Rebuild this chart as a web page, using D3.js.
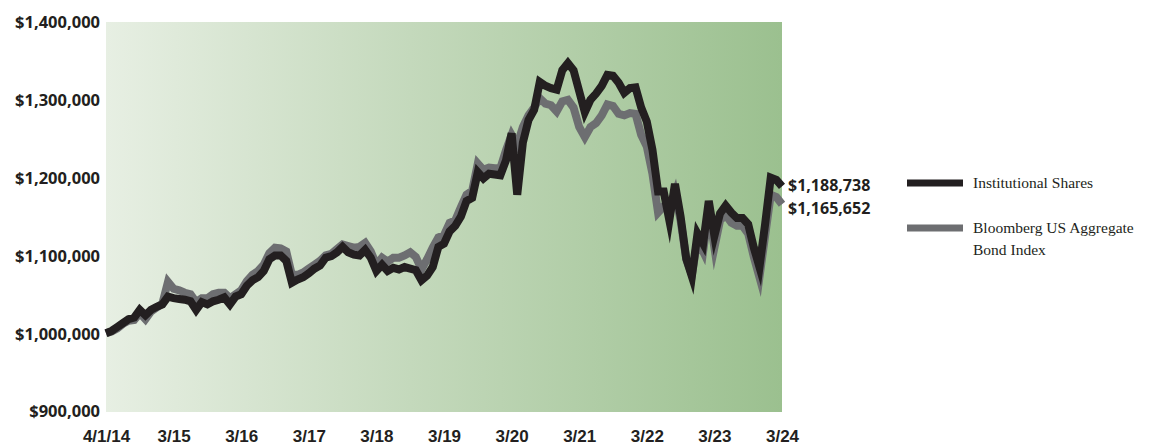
<!DOCTYPE html>
<html>
<head>
<meta charset="utf-8">
<script src="https://cdn.jsdelivr.net/npm/d3@7/dist/d3.min.js"></script>
<style>
  html, body { margin: 0; padding: 0; background: #ffffff; }
  svg { display: block; }
  .ylab text { font-family: "Open Sans", sans-serif; font-weight: 700; font-size: 16.5px; fill: #231f20; }
  .endlab { font-family: "Open Sans", sans-serif; font-weight: 700; font-size: 16px; fill: #231f20; }
  .xlab text { font-family: "Liberation Sans Narrow", "Liberation Sans", sans-serif; font-weight: 700; font-size: 17px; fill: #231f20; }
  .legend text { font-family: "Liberation Serif", "DejaVu Serif", serif; font-size: 15.5px; fill: #231f20; }
</style>
</head>
<body>
<svg id="chart" width="1168" height="445"></svg>
<script>
// Growth of $1,000,000, month-end values from 4/1/14 through 3/31/24 (121 points)
const months = d3.range(0, 121);

const institutionalShares = [
  1000000, 1003000, 1008000, 1013000, 1018000, 1020000, 1030000, 1023000, 1030000, 1034000,
  1037000, 1047000, 1045000, 1044000, 1043000, 1041000, 1030000, 1040000, 1037000, 1041000,
  1043000, 1046000, 1037000, 1047000, 1050000, 1061000, 1068000, 1072000, 1080000, 1095000,
  1100000, 1100000, 1093000, 1065000, 1069000, 1072000, 1077000, 1083000, 1087000, 1097000,
  1099000, 1104000, 1111000, 1104000, 1101000, 1100000, 1107000, 1097000, 1080000, 1088000,
  1080000, 1084000, 1082000, 1085000, 1083000, 1081000, 1068000, 1074000, 1085000, 1111000,
  1115000, 1131000, 1138000, 1150000, 1170000, 1174000, 1207000, 1199000, 1205000, 1204000,
  1203000, 1222000, 1257000, 1178000, 1245000, 1274000, 1287000, 1323000, 1318000, 1315000,
  1313000, 1338000, 1347000, 1338000, 1311000, 1284000, 1300000, 1308000, 1318000, 1332000,
  1331000, 1322000, 1309000, 1315000, 1316000, 1290000, 1272000, 1236000, 1182000, 1182000,
  1145000, 1192000, 1150000, 1096000, 1073000, 1128000, 1115000, 1170000, 1125000, 1154000,
  1164000, 1155000, 1148000, 1148000, 1140000, 1110000, 1085000, 1140000, 1200000, 1197000,
  1188738
];

const bloombergAgg = [
  1000000, 1002000, 1006000, 1012000, 1016000, 1017000, 1026000, 1018000, 1028000, 1033000,
  1038000, 1066000, 1057000, 1055000, 1052000, 1050000, 1040000, 1045000, 1045000, 1050000,
  1052000, 1052000, 1045000, 1050000, 1055000, 1067000, 1075000, 1080000, 1088000, 1103000,
  1110000, 1109000, 1105000, 1075000, 1075000, 1078000, 1083000, 1088000, 1093000, 1100000,
  1102000, 1108000, 1114000, 1112000, 1110000, 1111000, 1116000, 1105000, 1088000, 1097000,
  1092000, 1097000, 1097000, 1100000, 1104000, 1098000, 1082000, 1095000, 1110000, 1123000,
  1126000, 1142000, 1145000, 1162000, 1178000, 1183000, 1218000, 1210000, 1213000, 1212000,
  1212000, 1235000, 1255000, 1242000, 1265000, 1280000, 1290000, 1302000, 1295000, 1293000,
  1285000, 1298000, 1300000, 1290000, 1265000, 1252000, 1265000, 1270000, 1280000, 1294000,
  1292000, 1282000, 1280000, 1283000, 1282000, 1255000, 1240000, 1205000, 1155000, 1163000,
  1160000, 1180000, 1145000, 1095000, 1075000, 1120000, 1105000, 1158000, 1110000, 1145000,
  1152000, 1142000, 1138000, 1138000, 1128000, 1098000, 1072000, 1125000, 1178000, 1175000,
  1165652
];

const xTickIndex = [0, 12, 24, 36, 48, 60, 72, 84, 96, 108, 120];
const xTickLabels = ["4/1/14", "3/15", "3/16", "3/17", "3/18", "3/19", "3/20", "3/21", "3/22", "3/23", "3/24"];
const yTicks = [900000, 1000000, 1100000, 1200000, 1300000, 1400000];

const seriesNames = ["Institutional Shares", "Bloomberg US Aggregate|Bond Index"];
const seriesColors = ["#231f20", "#6d6e71"];

const svg = d3.select("#chart");
const plot = { left: 106, right: 782, top: 22, bottom: 412 };

const x = d3.scaleLinear().domain([0, 120]).range([plot.left, plot.right]);
const y = d3.scaleLinear().domain([900000, 1400000]).range([plot.bottom - 1, plot.top]);

// background wash, pale on the left deepening to green on the right
const defs = svg.append("defs");
const grad = defs.append("linearGradient").attr("id", "wash")
  .attr("x1", "0%").attr("x2", "100%").attr("y1", "0%").attr("y2", "0%");
grad.append("stop").attr("offset", "0%").attr("stop-color", "#e7efe3");
grad.append("stop").attr("offset", "45%").attr("stop-color", "#c4d9bc");
grad.append("stop").attr("offset", "100%").attr("stop-color", "#9bc08f");

svg.append("rect")
  .attr("x", plot.left).attr("y", plot.top)
  .attr("width", plot.right - plot.left).attr("height", plot.bottom - plot.top)
  .attr("fill", "url(#wash)");

// axes: labels only
const yAxis = svg.append("g").attr("class", "ylab")
  .attr("transform", `translate(${plot.left - 6},0)`)
  .call(d3.axisLeft(y).tickValues(yTicks).tickSize(0).tickPadding(0)
    .tickFormat(d => "$" + d3.format(",")(d)));
yAxis.select(".domain").remove();
yAxis.selectAll("text").attr("dy", "0.36em");

const xAxis = svg.append("g").attr("class", "xlab")
  .attr("transform", `translate(0,${plot.bottom})`)
  .call(d3.axisBottom(x).tickValues(xTickIndex).tickSize(0).tickPadding(0)
    .tickFormat((d, i) => xTickLabels[i]));
xAxis.select(".domain").remove();
xAxis.selectAll("text").attr("y", 30).attr("dy", 0);

// lines
const line = d3.line().x((d, i) => x(months[i])).y(d => y(d));

svg.append("path").datum(bloombergAgg)
  .attr("d", line).attr("fill", "none")
  .attr("stroke", seriesColors[1]).attr("stroke-width", 8)
  .attr("stroke-linejoin", "miter").attr("stroke-miterlimit", 6);

svg.append("path").datum(institutionalShares)
  .attr("d", line).attr("fill", "none")
  .attr("stroke", seriesColors[0]).attr("stroke-width", 8)
  .attr("stroke-linejoin", "miter").attr("stroke-miterlimit", 6);

// ending values
const endFmt = d => "$" + d3.format(",")(d);
svg.append("text").attr("class", "endlab")
  .attr("x", plot.right + 6).attr("y", 185).attr("dy", "0.36em")
  .text(endFmt(institutionalShares[120]));
svg.append("text").attr("class", "endlab")
  .attr("x", plot.right + 6).attr("y", 208).attr("dy", "0.36em")
  .text(endFmt(bloombergAgg[120]));

// legend
const legend = svg.append("g").attr("class", "legend");
const legendRows = [183, 228];
seriesNames.forEach((name, i) => {
  legend.append("rect")
    .attr("x", 907).attr("y", legendRows[i] - 3.5)
    .attr("width", 56).attr("height", 7)
    .attr("fill", seriesColors[i]);
  name.split("|").forEach((part, j) => {
    legend.append("text")
      .attr("x", 973).attr("y", legendRows[i] + 5 + j * 22)
      .text(part);
  });
});
</script>
</body>
</html>
